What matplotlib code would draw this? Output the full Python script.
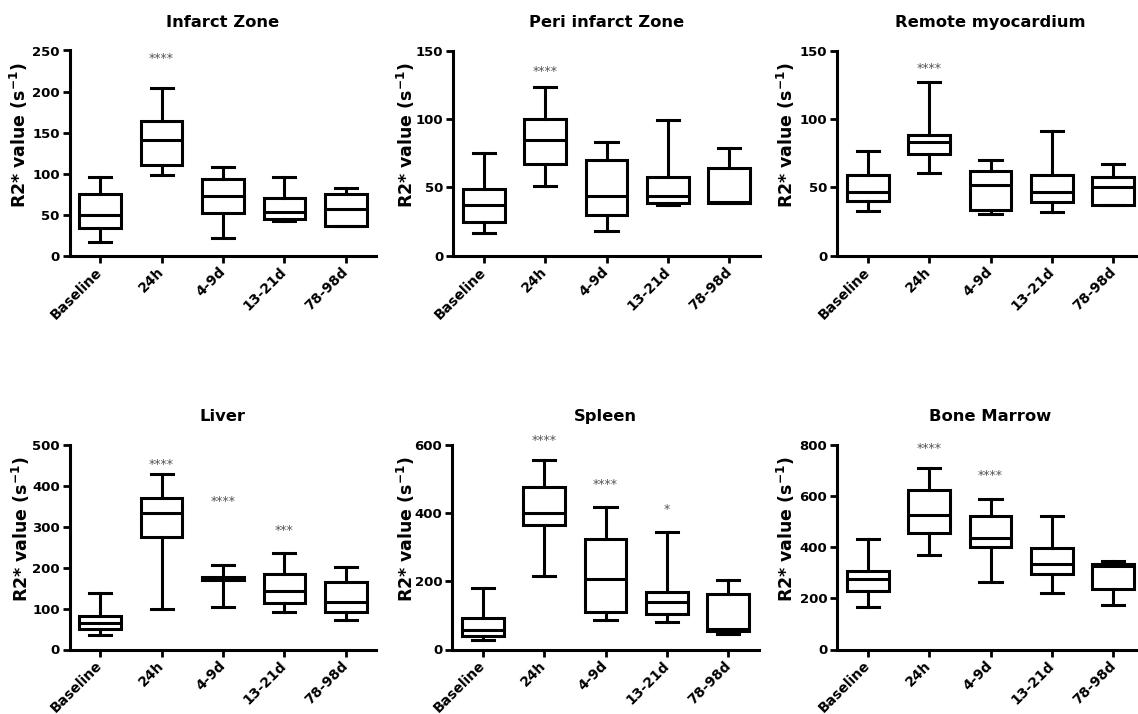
import numpy as np
import matplotlib
matplotlib.use('Agg')
import matplotlib.pyplot as plt

plt.rcParams['font.family'] = ['DejaVu Sans']
plt.rcParams['font.weight'] = 'bold'
plt.rcParams['mathtext.fontset'] = 'custom'
plt.rcParams['mathtext.rm'] = 'DejaVu Sans:bold'
plt.rcParams['mathtext.it'] = 'DejaVu Sans:bold'
plt.rcParams['mathtext.bf'] = 'DejaVu Sans:bold'

groups = ['Baseline', '24h', '4-9d', '13-21d', '78-98d']

# each row: [whisker low, q1, median, q3, whisker high] for one group
infarct = [[17, 34, 50, 76, 96], [98, 111, 141, 164, 204], [22, 52, 73, 94, 108],
           [42, 45, 54, 71, 96], [36, 37, 57, 75, 83]]
peri = [[17, 25, 37, 49, 75], [51, 67, 85, 100, 123], [18, 30, 44, 70, 83],
        [37.5, 38.5, 44, 58, 99], [38.7, 39, 39.5, 64, 79]]
remote = [[33, 40, 47, 59, 77], [60.5, 74.5, 83, 88, 127], [31, 33.5, 52, 62, 70],
          [32, 39.5, 47, 59, 91], [37, 37.5, 50, 58, 67]]
liver = [[35, 51, 66, 82, 137], [100, 276, 333, 370, 430], [103, 170, 174, 178, 206],
         [91, 113, 144, 184, 237], [73, 92, 115, 164, 201]]
spleen = [[27, 39, 56, 91, 181], [215, 364, 400, 476, 556], [86, 111, 207, 324, 417],
          [81, 104, 139, 169, 344], [46, 54, 61, 163, 205]]
marrow = [[166, 228, 277, 308, 432], [371, 455, 527, 624, 709], [263, 400, 436, 524, 588],
          [221, 295, 334, 399, 524], [173, 237, 325, 336, 345]]

# significance marks: (group index, text, y value)
infarct_sig = [(1, '****', 240)]
peri_sig = [(1, '****', 135)]
remote_sig = [(1, '****', 137)]
liver_sig = [(1, '****', 453), (2, '****', 363), (3, '***', 290)]
spleen_sig = [(1, '****', 612), (2, '****', 483), (3, '*', 412)]
marrow_sig = [(1, '****', 787), (2, '****', 680)]

# title, data, ymax, tick step, marks, (x of y-axis, y of zero, y of top) in pixels, label offset
panels = [
    ('Infarct Zone', infarct, 250, 50, infarct_sig, (69.5, 256, 50.5), 40),
    ('Peri infarct Zone', peri, 150, 50, peri_sig, (453, 256, 50.5), 36),
    ('Remote myocardium', remote, 150, 50, remote_sig, (837, 256, 50.5), 40),
    ('Liver', liver, 500, 100, liver_sig, (69.5, 649.5, 445), 37),
    ('Spleen', spleen, 600, 200, spleen_sig, (452, 649.5, 445), 35),
    ('Bone Marrow', marrow, 800, 200, marrow_sig, (837, 649.5, 445), 40),
]

W, H = 1138, 714
fig = plt.figure(figsize=(W / 100, H / 100), dpi=100)
axw = 307

for title, data, ymax, step, sig, (x0, y0, ytop), lab in panels:
    ax = fig.add_axes([x0 / W, (H - y0) / H, axw / W, (y0 - ytop) / H])
    stats = []
    for g, row in zip(groups, data):
        stats.append({'label': g, 'whislo': row[0], 'q1': row[1], 'med': row[2],
                      'q3': row[3], 'whishi': row[4], 'fliers': []})
    lw = 2.2
    ax.bxp(stats, positions=np.arange(1, 6), widths=0.68, patch_artist=True,
           showfliers=False, capwidths=0.36,
           boxprops=dict(facecolor='white', edgecolor='black', linewidth=lw),
           medianprops=dict(color='black', linewidth=lw),
           whiskerprops=dict(color='black', linewidth=lw),
           capprops=dict(color='black', linewidth=lw))
    for i, txt, yv in sig:
        ax.text(i + 1, yv, txt, ha='center', va='center', fontsize=9,
                fontweight='normal', color='#555555')
    ax.set_xlim(0.5, 5.5)
    ax.set_ylim(0, ymax)
    ax.set_yticks(np.arange(0, ymax + 1, step))
    ax.set_xticks(np.arange(1, 6))
    ax.set_xticklabels(groups, rotation=45, ha='right', va='center',
                       rotation_mode='anchor', fontsize=10, fontweight='bold')
    for t in ax.get_yticklabels():
        t.set_fontsize(9.5)
        t.set_fontweight('bold')
    ax.spines['top'].set_visible(False)
    ax.spines['right'].set_visible(False)
    ax.spines['left'].set_linewidth(2.2)
    ax.spines['bottom'].set_linewidth(2.2)
    ax.tick_params(axis='both', direction='out', length=5, width=2, pad=2)
    ax.tick_params(axis='x', pad=5)
    ax.set_title(title, fontsize=11.8, fontweight='bold', pad=17)
    ax.set_ylabel(r'R2* value (s$^{-1}$)', fontsize=12.5, fontweight='bold')
    ax.yaxis.set_label_coords(-lab / axw, 0.59)
    ax.patch.set_alpha(0)

fig.savefig('out.png', dpi=100)
